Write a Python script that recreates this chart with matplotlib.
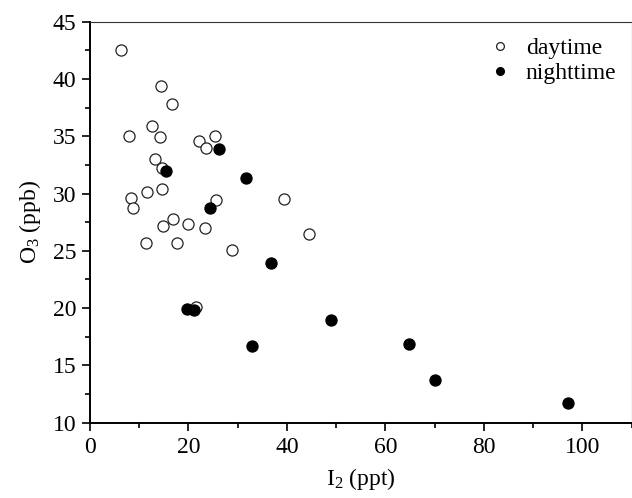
import numpy as np
import matplotlib
matplotlib.use('Agg')
import matplotlib.pyplot as plt
from matplotlib.ticker import MultipleLocator

plt.rcParams['font.family'] = 'serif'
plt.rcParams['font.serif'] = ['Liberation Serif', 'TeX Gyre Termes', 'DejaVu Serif']
plt.rcParams['mathtext.fontset'] = 'custom'
plt.rcParams['mathtext.rm'] = 'Liberation Serif'
plt.rcParams['mathtext.it'] = 'Liberation Serif:italic'

# daytime (open circles)
day_i2 = [6.2, 14.5, 16.7, 12.6, 7.9, 14.2, 25.3, 22.2, 23.6, 13.2,
          14.7, 8.3, 11.5, 14.7, 8.7, 25.6, 39.5, 16.8, 14.9, 20.0,
          23.4, 44.5, 11.3, 17.6, 28.9, 21.6]
day_o3 = [42.5, 39.4, 37.8, 35.9, 35.0, 34.9, 35.0, 34.6, 34.0, 33.05,
          32.2, 29.6, 30.1, 30.4, 28.7, 29.4, 29.55, 27.8, 27.2, 27.3,
          27.0, 26.5, 25.65, 25.7, 25.1, 20.1]

# nighttime (filled circles)
night_i2 = [26.3, 15.4, 31.7, 24.3, 36.8, 19.7, 21.1, 48.9, 32.9, 64.7, 70.1, 97.2]
night_o3 = [33.9, 32.0, 31.4, 28.7, 23.9, 19.95, 19.85, 19.0, 16.7, 16.9, 13.7, 11.7]

fig = plt.figure(figsize=(6.32, 4.98), dpi=100)
ax = fig.add_axes([90 / 632, 75.3 / 498, 541.5 / 632, 401 / 498])

ax.plot(day_i2, day_o3, 'o', ls='none', ms=8, mfc='white', mec='#222222',
        mew=0.9, label='daytime')
ax.plot(night_i2, night_o3, 'o', ls='none', ms=8, mfc='black', mec='black',
        mew=0.9, label='nighttime')

ax.set_xlim(0, 110)
ax.set_ylim(10, 45)
ax.xaxis.set_major_locator(MultipleLocator(20))
ax.xaxis.set_minor_locator(MultipleLocator(10))
ax.yaxis.set_major_locator(MultipleLocator(5))
ax.yaxis.set_minor_locator(MultipleLocator(2.5))
ax.tick_params(which='both', direction='out', top=False, right=False,
               labelsize=17, width=1.2, color='black')
ax.tick_params(which='major', length=6, pad=4)
ax.tick_params(which='minor', length=3.5)

for s in ['left', 'bottom']:
    ax.spines[s].set_linewidth(1.4)
for s in ['top', 'right']:
    ax.spines[s].set_linewidth(0.8)
    ax.spines[s].set_color('#333333')

ax.set_xlabel(r'I$_2$ (ppt)', fontsize=17, labelpad=6)
ax.set_ylabel(r'O$_3$ (ppb)', fontsize=17, labelpad=7)

ax.legend(loc='upper right', bbox_to_anchor=(1.02, 1.025), frameon=False,
          fontsize=17, markerscale=0.7, handletextpad=0.5, labelspacing=0.15,
          borderaxespad=0.7, handlelength=1.2)

fig.savefig('out.png', dpi=100)
